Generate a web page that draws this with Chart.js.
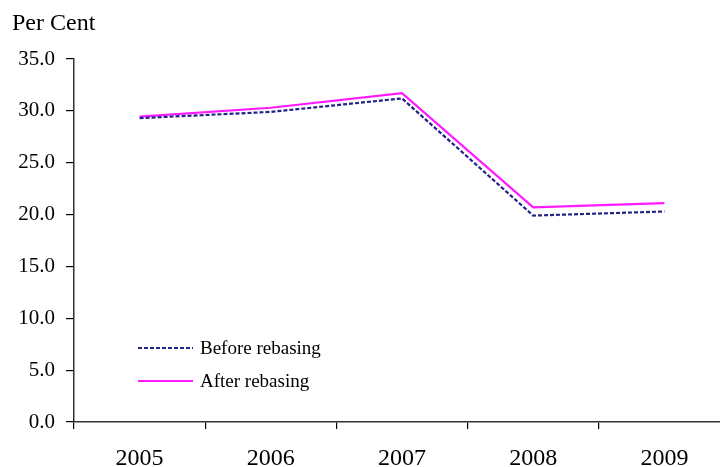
<!DOCTYPE html>
<html>
<head>
<meta charset="utf-8">
<style>
  html, body { margin: 0; padding: 0; background: #fff; overflow: hidden; }
  #wrap { width: 720px; height: 467px; overflow: hidden; }
  canvas { display: block; }
</style>
<script src="https://cdn.jsdelivr.net/npm/chart.js@4/dist/chart.umd.min.js"></script>
</head>
<body>
<div id="wrap"><canvas id="c" width="735" height="467"></canvas></div>
<script>
// Categories and series
const years = ['2005', '2006', '2007', '2008', '2009'];
const beforeRebasing = [29.3, 29.9, 31.2, 19.9, 20.3];
const afterRebasing = [29.45, 30.3, 31.7, 20.7, 21.1];
const yTicks = [0, 5, 10, 15, 20, 25, 30, 35];

const SERIF = '"Liberation Serif", "Times New Roman", serif';

// Unit caption and in-plot legend
const decorations = {
  id: 'decorations',
  afterDraw(chart) {
    const ctx = chart.ctx;
    ctx.save();
    ctx.fillStyle = '#000';
    ctx.font = '24px ' + SERIF;
    ctx.textBaseline = 'middle';
    ctx.textAlign = 'left';
    ctx.fillText('Per Cent', 12, 24);

    const rows = [{ y: 348 }, { y: 381 }];
    chart.data.datasets.forEach((ds, i) => {
      const y = rows[i].y;
      ctx.beginPath();
      ctx.strokeStyle = ds.borderColor;
      ctx.lineWidth = ds.borderWidth;
      ctx.setLineDash(ds.borderDash || []);
      ctx.moveTo(138, y);
      ctx.lineTo(193, y);
      ctx.stroke();
      ctx.setLineDash([]);
      ctx.fillStyle = '#000';
      ctx.font = '19px ' + SERIF;
      ctx.fillText(ds.label, 200, y + 1);
    });
    ctx.restore();
  }
};

new Chart(document.getElementById('c'), {
  type: 'line',
  data: {
    labels: years,
    datasets: [
      {
        label: 'Before rebasing',
        data: beforeRebasing,
        borderColor: '#23238a',
        borderWidth: 2.2,
        borderDash: [4, 2],
        pointRadius: 0,
        tension: 0,
        fill: false
      },
      {
        label: 'After rebasing',
        data: afterRebasing,
        borderColor: '#ff1aff',
        borderWidth: 2.2,
        pointRadius: 0,
        tension: 0,
        fill: false
      }
    ]
  },
  options: {
    responsive: false,
    animation: false,
    layout: { padding: { top: 59, right: 5, left: 0, bottom: 0 } },
    plugins: {
      legend: { display: false },
      title: { display: false },
      tooltip: { enabled: false }
    },
    scales: {
      x: {
        type: 'category',
        offset: true,
        grid: {
          offset: true,
          drawOnChartArea: false,
          drawTicks: true,
          tickLength: 7,
          color: '#000',
          lineWidth: 1.2
        },
        border: { display: true, color: '#333', width: 1.5 },
        ticks: {
          color: '#000',
          font: { family: SERIF, size: 24 },
          padding: 15,
          maxRotation: 0
        },
        afterFit(scale) { scale.height = 45; }
      },
      y: {
        min: 0,
        max: 35,
        afterBuildTicks(scale) {
          scale.ticks = yTicks.map(v => ({ value: v }));
        },
        grid: {
          drawOnChartArea: false,
          drawTicks: true,
          tickLength: 8,
          color: '#000',
          lineWidth: 1.2
        },
        border: { display: true, color: '#333', width: 1.5 },
        ticks: {
          color: '#000',
          font: { family: SERIF, size: 21 },
          padding: 11,
          callback: v => Number(v).toFixed(1)
        },
        afterFit(scale) { scale.width = 74; }
      }
    }
  },
  plugins: [decorations]
});
</script>
</body>
</html>
